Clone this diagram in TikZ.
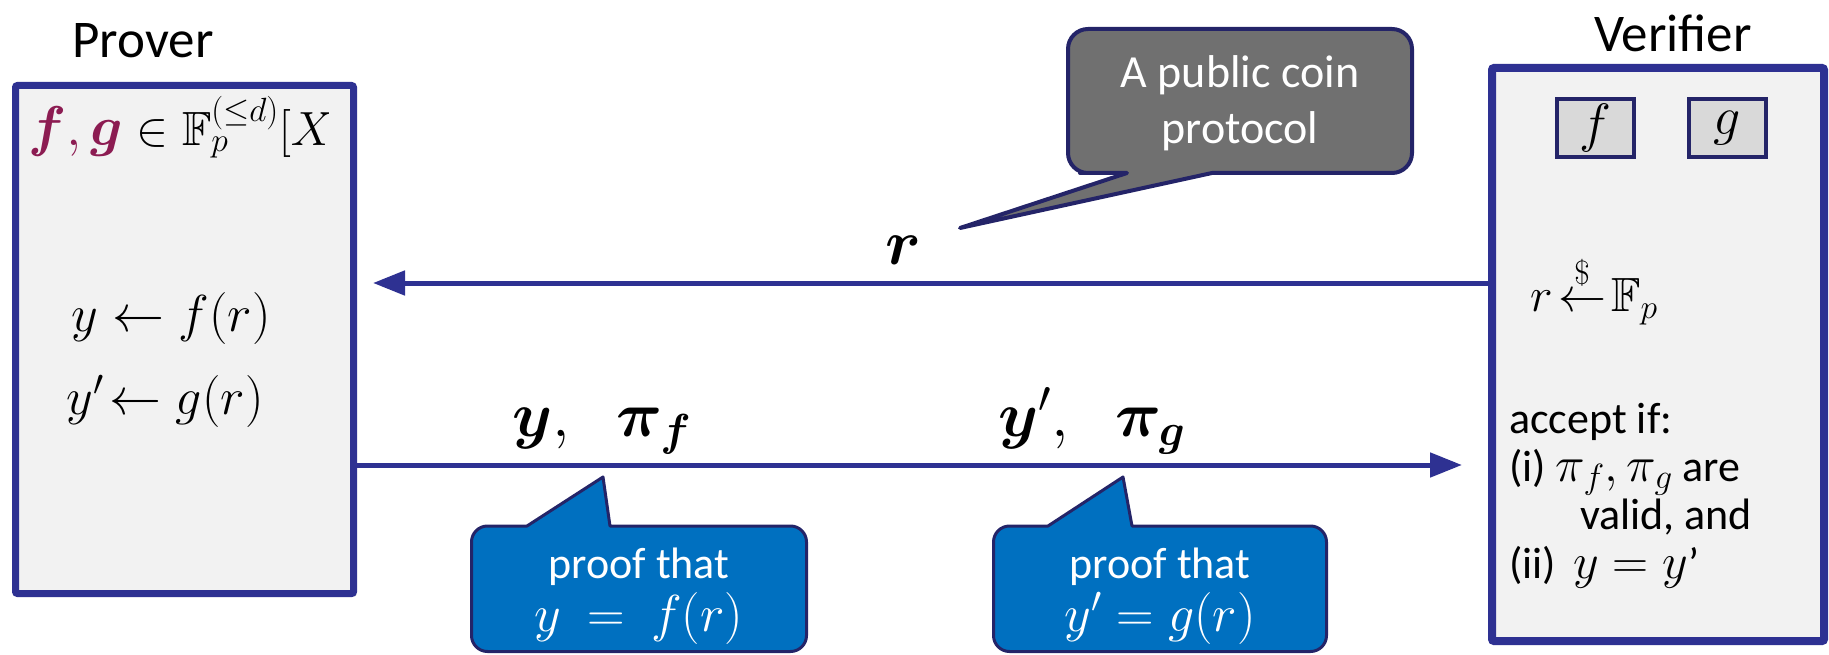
\RequirePackage{fix-cm}
\documentclass[tikz,border=0pt]{standalone}
\usepackage{amsmath,amssymb,bm}
\usepackage{fontspec}
\newfontfamily\calib{Carlito}
\usetikzlibrary{arrows.meta,shadows}
\definecolor{bordblue}{RGB}{46,49,146}
\definecolor{boxgray}{RGB}{242,242,242}
\definecolor{navy}{RGB}{36,36,104}
\definecolor{callgray}{RGB}{112,112,112}
\definecolor{callblue}{RGB}{0,112,192}
\definecolor{fgmaroon}{RGB}{140,28,82}
\definecolor{smallgray}{RGB}{217,217,217}
\newcommand{\fsz}[2]{\fontsize{#1}{#2}\selectfont}
\tikzset{
  mainbox/.style={draw=bordblue, fill=boxgray, line width=#1, inner sep=0pt, rounded corners=2pt,
    drop shadow={shadow xshift=3pt, shadow yshift=-3pt, opacity=0.3}},
  arr/.style={draw=bordblue, line width=5pt, -{Triangle[length=32pt,width=24pt]}},
  sans/.style={font=\calib\fsz{53}{60}, inner sep=0pt},
  vtext/.style={font=\calib\fsz{44}{50}, anchor=base west, inner sep=0pt},
  mathtxt/.style={font=\fsz{52}{60}, inner sep=0pt},
  biglab/.style={font=\fsz{64}{70}, inner sep=0pt},
  smallbox/.style={draw=navy, fill=smallgray, line width=4pt, minimum width=77pt, minimum height=58pt, inner sep=0pt, font=\fsz{54}{60}},
  grayco/.style={draw=navy, line width=4pt, fill=callgray, line join=round},
  blueco/.style={draw=navy, line width=3pt, fill=callblue, line join=round},
  cotext/.style={text=white, align=center, font=\calib\fsz{44}{53}, inner sep=0pt},
}
\begin{document}
\begin{tikzpicture}[x=1pt,y=-1pt]
\useasboundingbox (0,0) rectangle (1829,655);
% main boxes
\node[mainbox=7pt, minimum width=338pt, minimum height=508pt, anchor=north west] (prover) at (12,82) {};
\node[mainbox=8pt, minimum width=332pt, minimum height=573pt, anchor=north west] (verifier) at (1488,64) {};
% titles
\node[sans] (plab) at (143,41) {Prover};
\node[sans] (vlab) at (1673,33) {Verifier};
% prover contents
\begin{scope}
  \clip (20,95) rectangle (328,180);
  \node[anchor=base west, inner sep=0pt] (fgline) at (28,146)
    {{\fsz{56}{60}$\textcolor{fgmaroon}{\bm{f},\bm{g}}$}{\fsz{48}{52}$\;\in \mathbb{F}_p^{(\le d)}[X]$}};
\end{scope}
\node[mathtxt] (yf) at (171,319) {$y \leftarrow f(r)$};
\node[mathtxt] (yg) at (165,401) {$y'\!\leftarrow g(r)$};
% verifier contents
\node[smallbox] (fbox) at (1595.5,128) {$f$};
\node[smallbox] (gbox) at (1727.5,128) {$g$};
\node[anchor=west, inner sep=0pt, font=\fsz{48}{52}] (rdraw) at (1530,290) {$r \!\overset{\$}{\leftarrow}\! \mathbb{F}_p$};
\node[vtext] (acc) at (1509,433) {accept if:};
\node[vtext] (c1) at (1509,481) {(i) {\fsz{50}{50}$\pi_f, \pi_g$} are};
\node[vtext] (c1b) at (1580,529) {valid, and};
\node[vtext] (c2) at (1509,578) {(ii)\, {\fsz{50}{50}$y = y$}’};
% arrows
\coordinate (rtip) at (373,283);
\draw[arr] (verifier.west |- rtip) -- (rtip);
\coordinate (btip) at (1462,465);
\draw[arr] (prover.east |- btip) -- (btip);
% arrow labels
\node[biglab] (rlab) at (903,250) {$\bm{r}$};
\node[biglab, anchor=base] (l1) at (602,436) {$\bm{y},\;\; \bm{\pi}_{\bm{f}}$};
\node[biglab, anchor=base] (l2) at (1092,436) {$\bm{y}',\;\; \bm{\pi}_{\bm{g}}$};
% gray callout
\draw[grayco] (1127,173) -- (960,228) -- (1212,173) -- (1300,173) [rounded corners=20pt] -- (1412,173) -- (1412,29) -- (1068,29) -- (1068,173) -- (1100,173) [sharp corners] -- cycle;
\node[cotext, font=\calib\fsz{46}{56}] (pub) at (1240,103) {A public coin\\protocol};
% blue callouts
\draw[blueco] (610,526) -- (603,477) -- (527,526) -- (505,526) [rounded corners=16pt] -- (471.5,526) -- (471.5,651.5) -- (806.5,651.5) -- (806.5,526) -- (640,526) [sharp corners] -- cycle;
\node[cotext] (pf1) at (639,596) {proof that\\{\fsz{52}{53}$y\ =\ f(r)$}};
\draw[blueco] (1132,526) -- (1123,477) -- (1048,526) -- (1025,526) [rounded corners=16pt] -- (993.5,526) -- (993.5,651.5) -- (1326.5,651.5) -- (1326.5,526) -- (1160,526) [sharp corners] -- cycle;
\node[cotext] (pf2) at (1160,596) {proof that\\{\fsz{52}{53}$y' = g(r)$}};
\end{tikzpicture}
\end{document}
